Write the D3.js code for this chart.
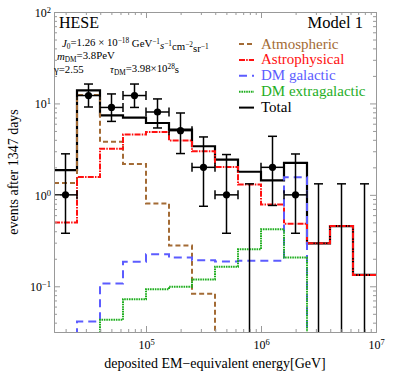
<!DOCTYPE html>
<html>
<head>
<meta charset="utf-8">
<script src="https://cdn.jsdelivr.net/npm/d3@7"></script>
<style>
  body { margin: 0; background: #fff; }
  text { font-family: "Liberation Serif", "Times New Roman", serif; }
</style>
</head>
<body>
<div class="chart"></div>
<script>
// bin edges in log10(E/GeV)
const binEdges = [4.2, 4.4, 4.6, 4.8, 5.0, 5.2, 5.4, 5.6, 5.8, 6.0, 6.2, 6.4, 6.6, 6.8, 7.0]

// expected events per bin (0 = nothing in the plot range)
const atmospheric   = [1.35, 12.4, 3.8, 2.18, 0.806, 0.28, 0.083, 0, 0, 0, 0, 0, 0, 0]
const astrophysical = [0.5, 1.57, 3.2, 4.56, 4.88, 3.92, 3.0, 2.02, 1.3, 0.786, 0.484, 0.295, 0.456, 0.133]
const dmGalactic    = [0, 0.0413, 0.107, 0.185, 0.224, 0.206, 0.193, 0.187, 0.19, 0.19, 1.56, 0, 0, 0]
const dmExtragal    = [0, 0, 0.043, 0.072, 0.093, 0.099, 0.119, 0.164, 0.254, 0.42, 0.206, 0, 0, 0]
const total         = [1.86, 13.9, 7.4, 6.98, 6.11, 5.17, 3.4, 2.43, 1.79, 1.44, 2.24, 0.295, 0.456, 0.133]

// observed events with error bars
const observed = [1, 12.2, 9.04, 12.2, 8.06, 5.04, 2.0, 1.0, 0, 2.0, 1.0, 0, 0, 0]
const errUpper = [2.81, 16.3, 12.7, 16.3, 11.2, 7.86, 4.3, 2.76, 1.32, 4.37, 2.8, 1.32, 1.32, 1.32]
const errLower = [0.38, 9.14, 6.36, 9.04, 5.39, 2.83, 0.75, 0.38, 0, 0.766, 0.38, 0, 0, 0]

const yMajorTicks = [0.1, 1, 10, 100]
const yTickExps = ["-1", "0", "1", "2"]
const xMajorTicks = [1e5, 1e6, 1e7]
const xTickExps = ["5", "6", "7"]

const legendNames = ["Atmospheric", "Astrophysical", "DM galactic", "DM extragalactic", "Total"]

function drawChart() {
  const dimensions = {
    width: 399,
    height: 387,
    margin: { top: 12, right: 23, bottom: 55, left: 54 },
  }
  dimensions.boundedWidth = dimensions.width - dimensions.margin.left - dimensions.margin.right
  dimensions.boundedHeight = dimensions.height - dimensions.margin.top - dimensions.margin.bottom

  const wrapper = d3.select(".chart")
    .append("svg")
    .attr("width", dimensions.width)
    .attr("height", dimensions.height)

  const bounds = wrapper.append("g")
    .attr("transform", `translate(${dimensions.margin.left},${dimensions.margin.top})`)

  const xScale = d3.scaleLog()
    .domain([10 ** binEdges[0], 10 ** binEdges[binEdges.length - 1]])
    .range([0, dimensions.boundedWidth])

  const yScale = d3.scaleLog()
    .domain([10 ** -1.5, 100])
    .range([dimensions.boundedHeight, 0])

  const floor = 1e-3

  bounds.append("clipPath").attr("id", "plotClip")
    .append("rect")
    .attr("width", dimensions.boundedWidth)
    .attr("height", dimensions.boundedHeight)

  const plot = bounds.append("g").attr("clip-path", "url(#plotClip)")

  const stepLine = d3.line()
    .x(d => xScale(d.e))
    .y(d => yScale(Math.max(d.v, floor)))
    .curve(d3.curveStepAfter)

  const stepData = vals => {
    const pts = vals.map((v, i) => ({ e: 10 ** binEdges[i], v }))
    pts.push({ e: 10 ** binEdges[vals.length], v: vals[vals.length - 1] })
    return pts
  }

  const styles = {
    total: { color: "#000", dash: null, width: 2.2 },
    atmospheric: { color: "#a36b35", dash: "5,3", width: 2 },
    astrophysical: { color: "#ff1010", dash: "6,1.2,1.5,1.2", width: 2 },
    dmGalactic: { color: "#5c5cff", dash: "8,5", width: 2 },
    dmExtragal: { color: "#1fae1f", dash: "1.6,0.8", width: 2 },
  }

  const series = [
    ["total", total],
    ["atmospheric", atmospheric],
    ["astrophysical", astrophysical],
    ["dmGalactic", dmGalactic],
    ["dmExtragal", dmExtragal],
  ]

  series.forEach(([key, vals]) => {
    const s = styles[key]
    plot.append("path")
      .attr("d", stepLine(stepData(vals)))
      .attr("fill", "none")
      .attr("stroke", s.color)
      .attr("stroke-width", s.width)
      .attr("stroke-dasharray", s.dash)
  })

  // data points
  const points = observed.map((v, i) => ({
    xc: 10 ** ((binEdges[i] + binEdges[i + 1]) / 2),
    x0: 10 ** binEdges[i],
    x1: 10 ** binEdges[i + 1],
    v, hi: errUpper[i], lo: errLower[i],
  }))

  const cap = 4.5
  const errGroup = plot.append("g")
    .attr("stroke", "#000")
    .attr("stroke-width", 1.5)

  points.forEach(d => {
    const xc = xScale(d.xc)
    const yHi = yScale(d.hi)
    const yLo = d.lo > 0 ? yScale(d.lo) : dimensions.boundedHeight + 5
    errGroup.append("line")
      .attr("x1", xc).attr("x2", xc)
      .attr("y1", yHi).attr("y2", yLo)
    errGroup.append("line")
      .attr("x1", xc - cap).attr("x2", xc + cap)
      .attr("y1", yHi).attr("y2", yHi)
    if (d.v > 0) {
      const yc = yScale(d.v)
      errGroup.append("line")
        .attr("x1", xc - cap).attr("x2", xc + cap)
        .attr("y1", yLo).attr("y2", yLo)
      errGroup.append("line")
        .attr("x1", xScale(d.x0)).attr("x2", xScale(d.x1))
        .attr("y1", yc).attr("y2", yc)
      errGroup.append("line")
        .attr("x1", xScale(d.x0)).attr("x2", xScale(d.x0))
        .attr("y1", yc - cap).attr("y2", yc + cap)
      errGroup.append("line")
        .attr("x1", xScale(d.x1)).attr("x2", xScale(d.x1))
        .attr("y1", yc - cap).attr("y2", yc + cap)
    }
  })

  plot.selectAll("circle")
    .data(points.filter(d => d.v > 0))
    .enter().append("circle")
    .attr("cx", d => xScale(d.xc))
    .attr("cy", d => yScale(d.v))
    .attr("r", 3.6)
    .attr("fill", "#000")

  // frame with ticks
  const frameColor = "#999"
  const yMinor = []
  for (let e = -2; e <= 1; e++) for (let k = 2; k <= 9; k++) {
    const v = k * 10 ** e
    if (v > 10 ** -1.5 && v < 100) yMinor.push(v)
  }
  const xMinor = []
  for (let e = 4; e <= 6; e++) for (let k = 2; k <= 9; k++) {
    const v = k * 10 ** e
    if (v > 10 ** 4.2 && v < 1e7) xMinor.push(v)
  }

  const styleAxis = g => {
    g.select(".domain").attr("stroke", frameColor)
    g.selectAll(".tick line").attr("stroke", frameColor)
  }

  const addAxis = (gen, transform) => bounds.append("g")
    .attr("transform", transform)
    .call(gen)
    .call(styleAxis)

  // minor ticks
  addAxis(d3.axisLeft(yScale).tickValues(yMinor).tickSize(-3).tickSizeOuter(0).tickFormat(""), "")
  addAxis(d3.axisRight(yScale).tickValues(yMinor).tickSize(-3).tickSizeOuter(0).tickFormat(""),
    `translate(${dimensions.boundedWidth},0)`)
  addAxis(d3.axisBottom(xScale).tickValues(xMinor).tickSize(-3).tickSizeOuter(0).tickFormat(""),
    `translate(0,${dimensions.boundedHeight})`)
  addAxis(d3.axisTop(xScale).tickValues(xMinor).tickSize(-3).tickSizeOuter(0).tickFormat(""), "")

  // major ticks
  const yAxis = addAxis(d3.axisLeft(yScale).tickValues(yMajorTicks).tickSize(-6).tickSizeOuter(0)
    .tickPadding(3).tickFormat(""), "")
  addAxis(d3.axisRight(yScale).tickValues(yMajorTicks).tickSize(-6).tickSizeOuter(0).tickFormat(""),
    `translate(${dimensions.boundedWidth},0)`)
  const xAxis = addAxis(d3.axisBottom(xScale).tickValues(xMajorTicks).tickSize(-6).tickSizeOuter(0)
    .tickPadding(6).tickFormat(""), `translate(0,${dimensions.boundedHeight})`)
  addAxis(d3.axisTop(xScale).tickValues(xMajorTicks).tickSize(-6).tickSizeOuter(0).tickFormat(""), "")

  yAxis.selectAll(".tick text").each(function (d, i) {
    const t = d3.select(this)
      .attr("fill", "#000")
      .style("font-size", "12px")
      .attr("dy", "0.35em")
    t.append("tspan").text("10")
    t.append("tspan").attr("dy", "-0.45em").style("font-size", "8.5px").text(yTickExps[i].replace("-", "\u2212"))
  })

  xAxis.selectAll(".tick text").each(function (d, i) {
    const t = d3.select(this)
      .attr("fill", "#000")
      .style("font-size", "12px")
      .attr("dy", "0.9em")
    t.append("tspan").text("10")
    t.append("tspan").attr("dy", "-0.45em").style("font-size", "8.5px").text(xTickExps[i])
  })

  // axis titles
  wrapper.append("text")
    .attr("x", dimensions.margin.left + dimensions.boundedWidth / 2)
    .attr("y", 368)
    .style("font-size", "14px")
    .style("text-anchor", "middle")
    .text("deposited EM\u2212equivalent energy[GeV]")

  wrapper.append("text")
    .attr("transform", `translate(18,${dimensions.margin.top + dimensions.boundedHeight / 2}) rotate(-90)`)
    .style("font-size", "14px")
    .style("text-anchor", "middle")
    .text("events after 1347 days")

  // labels in the plot
  wrapper.append("text")
    .attr("x", 59).attr("y", 28)
    .style("font-size", "16px")
    .text("HESE")

  wrapper.append("text")
    .attr("x", 363).attr("y", 28)
    .style("font-size", "16.5px")
    .style("text-anchor", "end")
    .text("Model 1")

  const rich = (x, y, parts) => {
    const t = wrapper.append("text").attr("x", x).attr("y", y).style("font-size", "10.8px")
    parts.forEach(([s, kind]) => {
      const sp = t.append("tspan").text(s)
      if (kind === "i") sp.style("font-style", "italic")
      if (kind === "sup") sp.attr("dy", "-0.4em").style("font-size", "7.3px")
      if (kind === "sub") sp.attr("dy", "0.3em").style("font-size", "7.3px")
      if (kind === "supEnd") sp.attr("dy", "0.4em")
      if (kind === "subEnd") sp.attr("dy", "-0.3em")
      if (kind === "iSupEnd") sp.attr("dy", "0.4em").style("font-style", "italic")
    })
    return t
  }

  rich(62, 47, [["J", "i"], ["0", "sub"], ["=1.26 \u00d7 10", "subEnd"], ["\u221218", "sup"],
    [" GeV", "supEnd"], ["\u22121", "sup"], ["s", "iSupEnd"], ["\u22121", "sup"], ["cm", "supEnd"],
    ["\u22122", "sup"], ["sr", "supEnd"], ["\u22121", "sup"]])

  rich(57, 60, [["m", "i"], ["DM", "sub"], ["=3.8PeV", "subEnd"]])
  rich(54, 73, [["\u03b3=2.55", ""]])
  rich(110, 73, [["\u03c4", "i"], ["DM", "sub"], ["=3.98\u00d710", "subEnd"], ["28", "sup"], ["s", "supEnd"]])

  // legend
  const legendKeys = ["atmospheric", "astrophysical", "dmGalactic", "dmExtragal", "total"]
  const legend = wrapper.append("g").attr("transform", "translate(239,44)")
  legendKeys.forEach((key, i) => {
    const s = styles[key]
    const row = legend.append("g").attr("transform", `translate(0,${i * 15.9})`)
    row.append("line")
      .attr("x1", 0).attr("x2", 15)
      .attr("stroke", s.color)
      .attr("stroke-width", 2)
      .attr("stroke-dasharray", s.dash)
    row.append("text")
      .attr("x", 22).attr("y", 4.5)
      .attr("fill", key === "total" ? "#000" : s.color)
      .style("font-size", "15px")
      .text(legendNames[i])
  })
}

drawChart()
</script>
</body>
</html>
